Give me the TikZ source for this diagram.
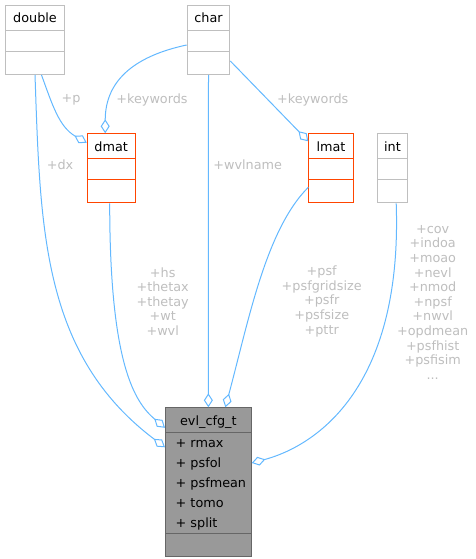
\documentclass[tikz,border=0pt]{standalone}
\usepackage{fontspec}
\setmainfont{DejaVu Sans}
\usetikzlibrary{positioning,calc,shapes.multipart,arrows.meta}
\definecolor{dxedge}{HTML}{63B8FF}
\definecolor{dxlabel}{HTML}{BEBEBE}
\definecolor{dxbox}{HTML}{BFBFBF}
\definecolor{dxref}{HTML}{FF4500}
\definecolor{dxfill}{HTML}{999999}
\definecolor{dxdark}{HTML}{666666}
\newcommand{\dxfont}{\fontsize{12.8}{14.6}\selectfont}
\newcommand{\titlerow}{\rule[-7pt]{0pt}{24pt}}
\newcommand{\midrow}{\rule{0pt}{20pt}}
\newcommand{\lastrow}{\rule{0pt}{22pt}}
\newcommand{\attrline}[1]{\rule[-6pt]{0pt}{20pt}+ #1}

\begin{document}
\begin{tikzpicture}[x=1pt, y=1pt,
  typebox/.style={rectangle split, rectangle split parts=3, draw=dxbox, fill=white, line width=1pt,
    inner xsep=0pt, inner ysep=0pt, align=center, anchor=north west, font=\dxfont},
  refbox/.style={typebox, draw=dxref},
  mainbox/.style={typebox, draw=dxdark, fill=dxfill},
  member/.style={draw=dxedge, line width=1pt, -{Diamond[fill=white, length=14pt, width=9pt]}},
  memberlabel/.style={font=\dxfont, text=dxlabel, inner sep=0pt, align=center},
]
\useasboundingbox (0,0) rectangle (475,559);
% plain types
\foreach \nm/\xx/\yy/\ww in {double/5/554/59, char/186.7/554/42.6, int/376.7/425.7/30.6} {
  \node[typebox, text width=\ww pt] (\nm) at (\xx,\yy) {\titlerow\nm\nodepart{second}\midrow\nodepart{third}\lastrow};
}
% referenced structs
\node[refbox, text width=48pt] (dmat) at (86.7,425.7) {\titlerow dmat\nodepart{second}\midrow\nodepart{third}\lastrow};
\node[refbox, text width=44.4pt] (lmat) at (308.3,425.7) {\titlerow lmat\nodepart{second}\midrow\nodepart{third}\lastrow};
% the config struct
\node[mainbox, text width=85.7pt] (evl) at (165,151.7) {\titlerow evl\_cfg\_t\nodepart{second}%
  \parbox{85.7pt}{\raggedright\fontsize{12.8}{20}\selectfont\leftskip=10pt
    \attrline{rmax}\\\attrline{psfol}\\\attrline{psfmean}\\\attrline{tomo}\\\attrline{split}}%
  \nodepart{third}\lastrow};

% members
\draw[member] ($(double.south)+(6.5,0)$) to[out=-70, in=150] ($(dmat.north west)+(0,-9.5)$);
\draw[member] ($(char.north west)+(0,-40)$) to[out=192, in=90, out distance=50, in distance=55] ($(dmat.north)+(-6,0)$);
\draw[member] ($(char.north east)+(0,-56)$) -- ($(lmat.north west)+(0,-8)$);
\draw[member] (double.south) to[out=-88, in=143] ($(evl.north west)+(0,-40)$);
\draw[member] ($(dmat.south)+(-1.5,0)$) to[out=-90, in=140, out distance=160, in distance=40] ($(evl.north west)+(0,-20.5)$);
\draw[member] (char.south) -- (evl.north);
\draw[member] ($(lmat.north west)+(0,-54)$) to[out=225, in=75, out distance=60, in distance=90] ($(evl.north)+(17,0)$);
\draw[member] ($(int.south)+(3.7,0)$) to[out=-88, in=15, out distance=190, in distance=62] ($(evl.north east)+(0,-55.7)$);

% member names
\node[memberlabel] (lblp) at (71,459) {+p};
\node[memberlabel] (lblkwd) at (152,459) {+keywords};
\node[memberlabel] (lblkwl) at (312.7,459) {+keywords};
\node[memberlabel] (lbldx) at (60,394.7) {+dx};
\node[memberlabel] (lblwvl) at (247.7,394) {+wvlname};
\node[memberlabel] (lbldmat) at (162.7,257.6) {+hs\\+thetax\\+thetay\\+wt\\+wvl};
\node[memberlabel] (lbllmat) at (321.7,257.6) {+psf\\+psfgridsize\\+psfr\\+psfsize\\+pttr};
\node[memberlabel] (lblint) at (432.7,256.7) {+cov\\+indoa\\+moao\\+nevl\\+nmod\\+npsf\\+nwvl\\+opdmean\\+psfhist\\+psfisim\\...};
\end{tikzpicture}
\end{document}
